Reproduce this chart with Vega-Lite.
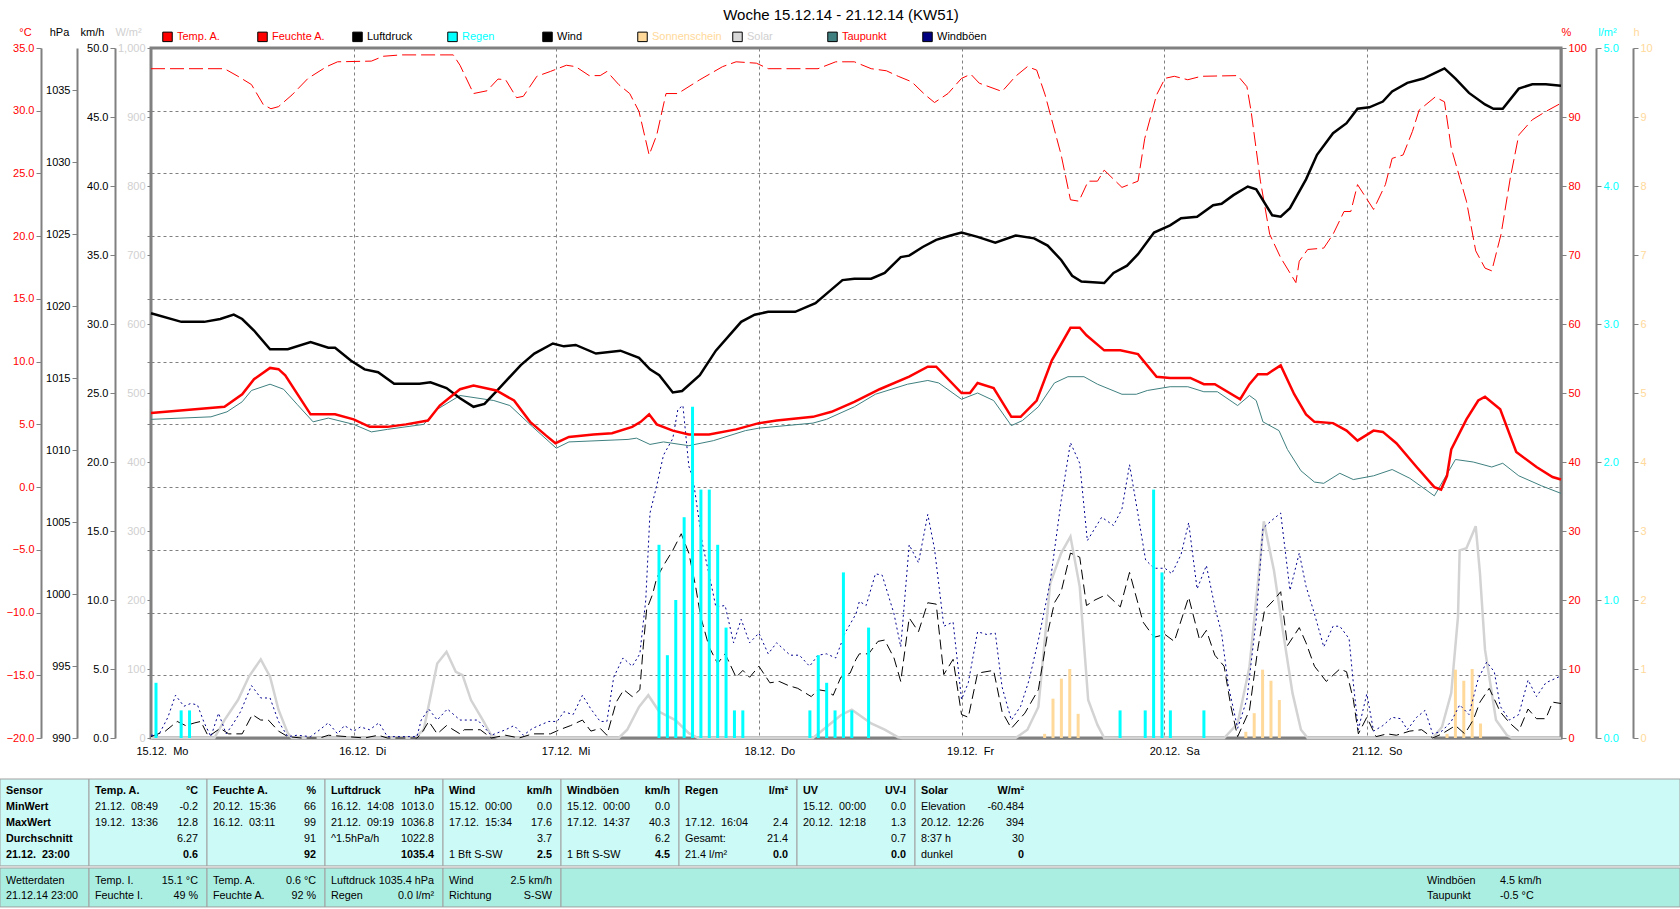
{
"$schema": "https://vega.github.io/schema/vega-lite/v6.json",
"width": 1410, "height": 690,
"autosize": {"type": "none"},
"padding": {"left": 151, "top": 48, "right": 119, "bottom": 171},
"background": "white",
"title": {"text": "Woche 15.12.14 - 21.12.14 (KW51)", "fontSize": 15, "fontWeight": "normal", "font": "Liberation Sans", "color": "black", "anchor": "middle", "dx": -15, "offset": 3},
"config": {
  "font": "Liberation Sans",
  "view": {"stroke": "#808080", "strokeWidth": 3},
  "axis": {"labelFont": "Liberation Sans", "labelFontSize": 11, "domainColor": "#808080", "tickColor": "#808080", "domainWidth": 2, "tickSize": 5, "titleFont": "Liberation Sans", "titleFontSize": 11, "titleFontWeight": "normal", "titleAngle": 0, "titleBaseline": "middle", "titleAlign": "center", "grid": false, "labelPadding": 2, "labelColor": "black", "titleColor": "black"}
},
"resolve": {"scale": {"x": "independent", "y": "independent"}},
"datasets": {
"temp": [{"h":0,"v":5.9},{"h":8.7,"v":6.4},{"h":10.8,"v":7.4},{"h":12.2,"v":8.6},{"h":14.1,"v":9.5},{"h":15.1,"v":9.4},{"h":15.9,"v":8.9},{"h":18.9,"v":5.8},{"h":21.8,"v":5.8},{"h":24,"v":5.4},{"h":25.9,"v":4.8},{"h":28,"v":4.8},{"h":30.2,"v":5.0},{"h":32.8,"v":5.3},{"h":34.2,"v":6.5},{"h":36.6,"v":7.8},{"h":38.2,"v":8.1},{"h":40.9,"v":7.7},{"h":43,"v":6.9},{"h":44.9,"v":5.2},{"h":46.8,"v":4.1},{"h":47.9,"v":3.5},{"h":49.5,"v":4.0},{"h":52.4,"v":4.2},{"h":54.6,"v":4.3},{"h":57,"v":4.8},{"h":58,"v":5.2},{"h":59,"v":5.8},{"h":59.9,"v":5.0},{"h":61.8,"v":4.5},{"h":63.7,"v":4.2},{"h":66.1,"v":4.2},{"h":69.3,"v":4.6},{"h":72,"v":5.1},{"h":74.1,"v":5.3},{"h":78.4,"v":5.6},{"h":80.6,"v":6.0},{"h":83.3,"v":6.8},{"h":86.3,"v":7.8},{"h":89.8,"v":8.8},{"h":92,"v":9.6},{"h":93,"v":9.6},{"h":96,"v":7.5},{"h":97,"v":7.5},{"h":97.9,"v":8.3},{"h":99.8,"v":7.9},{"h":101.9,"v":5.6},{"h":103,"v":5.6},{"h":104.9,"v":6.9},{"h":106.7,"v":10.1},{"h":108.9,"v":12.7},{"h":110,"v":12.7},{"h":110.8,"v":12.1},{"h":112.9,"v":10.9},{"h":114.8,"v":10.9},{"h":116.9,"v":10.6},{"h":119.1,"v":8.8},{"h":120.7,"v":8.7},{"h":123.1,"v":8.7},{"h":124.7,"v":8.2},{"h":126,"v":8.2},{"h":129,"v":7.0},{"h":130.1,"v":8.2},{"h":131.1,"v":9.0},{"h":132.2,"v":9.0},{"h":133.8,"v":9.7},{"h":135.4,"v":7.4},{"h":136.8,"v":5.8},{"h":137.8,"v":5.2},{"h":140,"v":5.1},{"h":141.6,"v":4.5},{"h":142.9,"v":3.7},{"h":144.8,"v":4.5},{"h":145.9,"v":4.4},{"h":147.5,"v":3.5},{"h":149.9,"v":1.6},{"h":152,"v":0.0},{"h":152.8,"v":-0.2},{"h":153.5,"v":0.9},{"h":154,"v":3.0},{"h":155.8,"v":5.4},{"h":157.2,"v":6.9},{"h":158,"v":7.2},{"h":159.8,"v":6.2},{"h":161.7,"v":2.8},{"h":164.1,"v":1.6},{"h":166,"v":0.8},{"h":167,"v":0.6}],
"dew": [{"h":0,"v":5.4},{"h":7.1,"v":5.6},{"h":9,"v":6.0},{"h":10.8,"v":6.8},{"h":11.9,"v":7.7},{"h":14.1,"v":8.2},{"h":15.7,"v":7.8},{"h":17.3,"v":6.6},{"h":19.2,"v":5.2},{"h":21,"v":5.5},{"h":24,"v":5.0},{"h":26.1,"v":4.4},{"h":28,"v":4.6},{"h":32.3,"v":5.0},{"h":33.9,"v":6.2},{"h":36.6,"v":7.3},{"h":40.6,"v":6.9},{"h":42.5,"v":6.5},{"h":45.2,"v":4.8},{"h":48,"v":3.1},{"h":49.5,"v":3.6},{"h":56.5,"v":3.8},{"h":57.5,"v":3.9},{"h":59.1,"v":3.4},{"h":60.7,"v":3.6},{"h":63.7,"v":3.3},{"h":66.6,"v":3.7},{"h":70.4,"v":4.5},{"h":72,"v":4.7},{"h":78.4,"v":5.1},{"h":80,"v":5.4},{"h":83.3,"v":6.4},{"h":85.8,"v":7.4},{"h":89.6,"v":8.2},{"h":92,"v":8.5},{"h":93.3,"v":8.3},{"h":96,"v":7.0},{"h":97.9,"v":7.5},{"h":99.8,"v":6.9},{"h":101.9,"v":4.9},{"h":103.2,"v":5.3},{"h":105.1,"v":6.4},{"h":107,"v":8.3},{"h":108.6,"v":8.8},{"h":110.5,"v":8.8},{"h":112.1,"v":8.2},{"h":115,"v":7.4},{"h":116.7,"v":7.4},{"h":118,"v":7.7},{"h":120.7,"v":8.0},{"h":122.8,"v":8.0},{"h":124.7,"v":7.6},{"h":126.3,"v":7.6},{"h":128.7,"v":6.5},{"h":130.1,"v":7.3},{"h":130.9,"v":6.9},{"h":131.7,"v":5.2},{"h":133.6,"v":4.5},{"h":134.6,"v":3.0},{"h":136.2,"v":1.3},{"h":137.8,"v":0.4},{"h":138.9,"v":0.3},{"h":140.8,"v":1.1},{"h":142.4,"v":0.6},{"h":144.8,"v":0.9},{"h":147,"v":1.4},{"h":149.1,"v":0.7},{"h":152,"v":-0.7},{"h":154.5,"v":2.2},{"h":156.6,"v":2.0},{"h":158.8,"v":1.6},{"h":160.1,"v":1.9},{"h":162,"v":0.9},{"h":164.7,"v":0.1},{"h":167,"v":-0.5}],
"hum": [{"h":0,"v":97},{"h":8.7,"v":97},{"h":10.3,"v":95.9},{"h":11.9,"v":94.7},{"h":13.3,"v":91.8},{"h":14.2,"v":91.2},{"h":15.1,"v":91.5},{"h":16.7,"v":93.2},{"h":18.6,"v":95.6},{"h":20.8,"v":97.3},{"h":22.1,"v":98},{"h":26.1,"v":98.1},{"h":27.5,"v":98.8},{"h":29.6,"v":99},{"h":35.8,"v":99},{"h":36.6,"v":97.5},{"h":38.2,"v":93.4},{"h":39.8,"v":93.8},{"h":41.1,"v":95.5},{"h":42,"v":95.4},{"h":43.3,"v":92.8},{"h":44.1,"v":93},{"h":45.7,"v":95.9},{"h":47.3,"v":96.6},{"h":49.2,"v":97.5},{"h":50.3,"v":97.3},{"h":51.9,"v":96},{"h":53.2,"v":96},{"h":54,"v":96.6},{"h":55.4,"v":94.7},{"h":56.7,"v":93.4},{"h":57.8,"v":90.8},{"h":59,"v":84.5},{"h":59.9,"v":87.4},{"h":61,"v":93.4},{"h":62.4,"v":93.4},{"h":65,"v":95.4},{"h":67.7,"v":97.3},{"h":69.3,"v":98},{"h":71.7,"v":97.8},{"h":73.1,"v":97},{"h":79,"v":97},{"h":81.1,"v":98},{"h":83.3,"v":98},{"h":85.3,"v":97},{"h":87.1,"v":96.7},{"h":88.5,"v":95.9},{"h":90.1,"v":95.1},{"h":91.7,"v":93.2},{"h":92.8,"v":92.1},{"h":94.4,"v":93.4},{"h":96,"v":95.6},{"h":97.1,"v":96.2},{"h":98.1,"v":94.9},{"h":100.8,"v":93.7},{"h":102.4,"v":95.9},{"h":103.8,"v":97.3},{"h":104.9,"v":96.8},{"h":105.9,"v":93.2},{"h":107.8,"v":84.5},{"h":108.9,"v":78},{"h":109.9,"v":77.8},{"h":111,"v":80.7},{"h":112.1,"v":80.7},{"h":112.9,"v":82.3},{"h":115,"v":79.8},{"h":116.9,"v":80.7},{"h":117.7,"v":86.9},{"h":119.1,"v":93.2},{"h":120.1,"v":95.6},{"h":121.2,"v":95.9},{"h":122.8,"v":95.4},{"h":124.4,"v":95.9},{"h":128.7,"v":96},{"h":129.8,"v":94.4},{"h":130.3,"v":90.8},{"h":131.4,"v":80.7},{"h":132.5,"v":73},{"h":133.8,"v":69.6},{"h":135.6,"v":66},{"h":136,"v":69.1},{"h":137,"v":70.8},{"h":138.9,"v":71},{"h":140,"v":73},{"h":141.3,"v":76.3},{"h":142.1,"v":76.3},{"h":142.9,"v":80.2},{"h":144.8,"v":76.6},{"h":146.2,"v":80.2},{"h":147,"v":84},{"h":148.3,"v":84.5},{"h":149.4,"v":87.9},{"h":150.2,"v":91},{"h":152.1,"v":92.9},{"h":153.2,"v":92.2},{"h":154,"v":85.5},{"h":155.8,"v":77.8},{"h":156.9,"v":70.6},{"h":158,"v":68.1},{"h":158.8,"v":67.7},{"h":159.9,"v":73},{"h":161,"v":81.2},{"h":162,"v":87.4},{"h":163.6,"v":89.6},{"h":165.2,"v":90.8},{"h":167,"v":92}],
"press": [{"h":0,"v":1019.5},{"h":3.6,"v":1018.9},{"h":6.3,"v":1018.9},{"h":8.2,"v":1019.1},{"h":9.8,"v":1019.4},{"h":10.8,"v":1019.1},{"h":12.2,"v":1018.3},{"h":14.1,"v":1017.0},{"h":16.2,"v":1017.0},{"h":18.9,"v":1017.5},{"h":21,"v":1017.1},{"h":21.8,"v":1017.1},{"h":23.7,"v":1016.2},{"h":25.3,"v":1015.6},{"h":26.9,"v":1015.4},{"h":28.8,"v":1014.6},{"h":31.8,"v":1014.6},{"h":33.1,"v":1014.7},{"h":35,"v":1014.3},{"h":36.6,"v":1013.6},{"h":38.2,"v":1013.0},{"h":39.5,"v":1013.2},{"h":41.1,"v":1014.2},{"h":43.8,"v":1015.9},{"h":45.4,"v":1016.7},{"h":47.6,"v":1017.4},{"h":48.9,"v":1017.2},{"h":50.3,"v":1017.3},{"h":52.7,"v":1016.7},{"h":55.6,"v":1016.9},{"h":57.8,"v":1016.4},{"h":59.1,"v":1015.6},{"h":60.2,"v":1015.2},{"h":61.8,"v":1014.0},{"h":62.9,"v":1014.1},{"h":65,"v":1015.2},{"h":66.9,"v":1016.9},{"h":69.9,"v":1018.9},{"h":71.5,"v":1019.4},{"h":73.1,"v":1019.6},{"h":76.3,"v":1019.6},{"h":78.7,"v":1020.2},{"h":80.3,"v":1021.0},{"h":81.9,"v":1021.8},{"h":83.3,"v":1021.9},{"h":85.3,"v":1021.9},{"h":86.9,"v":1022.3},{"h":88.8,"v":1023.4},{"h":89.8,"v":1023.5},{"h":91.4,"v":1024.1},{"h":93,"v":1024.6},{"h":94.7,"v":1024.9},{"h":96,"v":1025.1},{"h":97.9,"v":1024.8},{"h":100,"v":1024.4},{"h":102.4,"v":1024.9},{"h":104.6,"v":1024.7},{"h":106.2,"v":1024.2},{"h":107.8,"v":1023.2},{"h":109.1,"v":1022.1},{"h":110.2,"v":1021.7},{"h":112.9,"v":1021.6},{"h":114,"v":1022.3},{"h":115.6,"v":1022.8},{"h":116.9,"v":1023.6},{"h":118.8,"v":1025.1},{"h":120.7,"v":1025.6},{"h":122,"v":1026.1},{"h":123.9,"v":1026.2},{"h":125.8,"v":1027.0},{"h":126.8,"v":1027.1},{"h":128.2,"v":1027.7},{"h":129.9,"v":1028.3},{"h":130.9,"v":1028.1},{"h":132.8,"v":1026.3},{"h":133.8,"v":1026.2},{"h":134.9,"v":1026.8},{"h":136.8,"v":1028.8},{"h":138.1,"v":1030.5},{"h":140,"v":1032.0},{"h":141.6,"v":1032.7},{"h":142.9,"v":1033.7},{"h":144.3,"v":1033.8},{"h":145.9,"v":1034.2},{"h":147,"v":1034.9},{"h":148.8,"v":1035.5},{"h":150.7,"v":1035.8},{"h":152.1,"v":1036.2},{"h":153.2,"v":1036.5},{"h":154.5,"v":1035.8},{"h":156.1,"v":1034.8},{"h":158,"v":1034.0},{"h":159,"v":1033.7},{"h":160.1,"v":1033.7},{"h":162,"v":1035.1},{"h":163.6,"v":1035.4},{"h":165.2,"v":1035.4},{"h":167,"v":1035.3}],
"wind": [{"h":0,"v":0.1},{"h":1.7,"v":0.5},{"h":3.1,"v":1.2},{"h":4.1,"v":0.9},{"h":5.2,"v":1.1},{"h":5.9,"v":1.2},{"h":6.8,"v":0.1},{"h":8.2,"v":0.7},{"h":9.2,"v":0.3},{"h":10.8,"v":0.3},{"h":12,"v":1.7},{"h":13,"v":1.3},{"h":13.9,"v":1.3},{"h":15.1,"v":0.5},{"h":16.2,"v":0.1},{"h":17.8,"v":0},{"h":20,"v":0},{"h":21,"v":0.2},{"h":23.2,"v":0.1},{"h":25.3,"v":0},{"h":26.9,"v":0.2},{"h":28,"v":0},{"h":31.5,"v":0},{"h":32,"v":0.3},{"h":32.9,"v":1.2},{"h":33.9,"v":0.3},{"h":35,"v":0.9},{"h":36.6,"v":0.3},{"h":37.1,"v":0.6},{"h":39,"v":0.6},{"h":40.3,"v":0},{"h":42,"v":0.2},{"h":43.6,"v":0},{"h":45.2,"v":0.3},{"h":47.3,"v":0.3},{"h":48.4,"v":0.6},{"h":49.7,"v":0.9},{"h":51.1,"v":1.3},{"h":52.1,"v":0.5},{"h":53.2,"v":0.7},{"h":54,"v":0.2},{"h":55.1,"v":2.6},{"h":56,"v":3.5},{"h":57,"v":3.0},{"h":57.9,"v":3.5},{"h":58.3,"v":6.6},{"h":58.7,"v":9.3},{"h":59.4,"v":10.4},{"h":59.9,"v":11.6},{"h":60.7,"v":12.5},{"h":61.8,"v":13.6},{"h":62.8,"v":14.8},{"h":63.7,"v":13.4},{"h":64.5,"v":11.0},{"h":65.1,"v":8.8},{"h":66.1,"v":6.6},{"h":67.1,"v":5.4},{"h":68,"v":6.1},{"h":69.3,"v":4.4},{"h":70.1,"v":4.9},{"h":70.9,"v":4.4},{"h":72,"v":5.2},{"h":73.3,"v":4.0},{"h":74.4,"v":4.1},{"h":75.5,"v":3.8},{"h":76.6,"v":3.6},{"h":78.2,"v":3.0},{"h":79,"v":3.5},{"h":80,"v":3.4},{"h":80.8,"v":3.1},{"h":81.7,"v":4.4},{"h":82.8,"v":4.7},{"h":83.5,"v":5.7},{"h":83.9,"v":6.1},{"h":85,"v":6.1},{"h":86.1,"v":7.0},{"h":86.9,"v":7.1},{"h":88,"v":5.8},{"h":88.8,"v":4.1},{"h":89.8,"v":8.7},{"h":90.9,"v":7.7},{"h":92,"v":9.8},{"h":93,"v":9.7},{"h":93.9,"v":4.6},{"h":95,"v":5.7},{"h":96,"v":1.7},{"h":96.8,"v":1.5},{"h":97.9,"v":4.7},{"h":99.8,"v":4.9},{"h":100.8,"v":1.9},{"h":101.9,"v":0.7},{"h":103.5,"v":1.8},{"h":105.1,"v":3.5},{"h":106.2,"v":7.6},{"h":107,"v":9.8},{"h":107.8,"v":10.6},{"h":108.9,"v":13.4},{"h":110,"v":13.1},{"h":110.8,"v":9.6},{"h":111.8,"v":10.0},{"h":113.2,"v":10.4},{"h":114.8,"v":9.5},{"h":115.9,"v":12.0},{"h":117.5,"v":8.4},{"h":118.8,"v":7.3},{"h":120.1,"v":7.5},{"h":121.2,"v":7.0},{"h":122.9,"v":10.2},{"h":124.2,"v":7.1},{"h":125,"v":7.8},{"h":126,"v":6.0},{"h":127.1,"v":5.2},{"h":127.9,"v":2.3},{"h":128.7,"v":0.1},{"h":130.1,"v":2.0},{"h":131.1,"v":6.5},{"h":131.9,"v":9.3},{"h":133,"v":10.0},{"h":133.8,"v":10.6},{"h":134.6,"v":6.7},{"h":136,"v":8.0},{"h":136.8,"v":6.9},{"h":137.8,"v":5.2},{"h":139.2,"v":4.1},{"h":140.8,"v":5.0},{"h":141.6,"v":4.8},{"h":142.4,"v":2.8},{"h":143,"v":0.3},{"h":144,"v":1.5},{"h":145.1,"v":0.1},{"h":146.4,"v":0.3},{"h":147.5,"v":0.2},{"h":149.1,"v":0.5},{"h":150.5,"v":0.6},{"h":151.8,"v":0},{"h":152.9,"v":0.3},{"h":154.5,"v":0.9},{"h":155.6,"v":0.3},{"h":156.6,"v":1.3},{"h":157.4,"v":2.6},{"h":158.5,"v":3.6},{"h":159.8,"v":1.9},{"h":160.9,"v":1.1},{"h":162,"v":0.5},{"h":163.1,"v":2.1},{"h":164.1,"v":1.4},{"h":165.2,"v":1.4},{"h":166,"v":2.6},{"h":167,"v":2.5}],
"gust": [{"h":0,"v":0.2},{"h":0.9,"v":0.2},{"h":2,"v":1.5},{"h":2.9,"v":3.1},{"h":3.9,"v":2.3},{"h":4.7,"v":2.5},{"h":5.5,"v":2.4},{"h":6.3,"v":1.1},{"h":7.1,"v":0.1},{"h":8,"v":1.8},{"h":8.9,"v":0.3},{"h":9.8,"v":1.1},{"h":10.6,"v":1.9},{"h":11.9,"v":3.8},{"h":13,"v":2.9},{"h":14.1,"v":2.9},{"h":15.1,"v":1.2},{"h":16.2,"v":0.1},{"h":17.3,"v":0.2},{"h":18.9,"v":0.1},{"h":20,"v":0.6},{"h":21,"v":1.1},{"h":22.1,"v":0.3},{"h":22.9,"v":0.9},{"h":24,"v":0.5},{"h":24.8,"v":0.8},{"h":25.9,"v":0.6},{"h":27,"v":1.1},{"h":28,"v":0.1},{"h":31.5,"v":0.1},{"h":32,"v":1.3},{"h":32.9,"v":2.1},{"h":33.9,"v":1.3},{"h":35.1,"v":2.1},{"h":36.6,"v":1.3},{"h":38.7,"v":1.3},{"h":40.3,"v":0.2},{"h":42,"v":0.6},{"h":43,"v":0.9},{"h":44.1,"v":0.2},{"h":45.2,"v":0.7},{"h":47.1,"v":1.2},{"h":48.1,"v":1.2},{"h":48.9,"v":1.9},{"h":50,"v":1.7},{"h":51.1,"v":3.1},{"h":52.1,"v":2.1},{"h":53.2,"v":1.2},{"h":54,"v":1.2},{"h":54.8,"v":4.4},{"h":55.9,"v":5.8},{"h":57,"v":5.2},{"h":57.9,"v":6.1},{"h":58.6,"v":10.0},{"h":59.1,"v":16.3},{"h":59.9,"v":18.3},{"h":60.7,"v":20.5},{"h":61.8,"v":21.7},{"h":62.4,"v":23.8},{"h":63,"v":24.1},{"h":63.7,"v":19.7},{"h":64.2,"v":18.8},{"h":65.3,"v":14.1},{"h":66.4,"v":11.0},{"h":66.9,"v":9.5},{"h":68,"v":9.6},{"h":69,"v":6.9},{"h":69.9,"v":8.6},{"h":70.9,"v":6.9},{"h":72,"v":7.6},{"h":73.1,"v":6.1},{"h":74.1,"v":6.9},{"h":75.7,"v":6.0},{"h":76.8,"v":6.0},{"h":78,"v":5.2},{"h":79,"v":6.0},{"h":80,"v":6.1},{"h":81.1,"v":5.8},{"h":82.2,"v":7.6},{"h":83.5,"v":9.0},{"h":83.9,"v":9.9},{"h":84.7,"v":9.6},{"h":85.8,"v":11.9},{"h":86.6,"v":11.8},{"h":88,"v":9.0},{"h":88.8,"v":6.6},{"h":89.8,"v":14.0},{"h":90.9,"v":12.7},{"h":92,"v":16.2},{"h":92.8,"v":13.7},{"h":93.9,"v":8.1},{"h":95,"v":8.4},{"h":96,"v":2.8},{"h":96.8,"v":4.0},{"h":97.9,"v":7.7},{"h":99,"v":7.5},{"h":100,"v":7.6},{"h":100.8,"v":3.7},{"h":101.9,"v":1.3},{"h":103,"v":2.3},{"h":104,"v":4.2},{"h":105.1,"v":7.1},{"h":106.5,"v":11.3},{"h":107.8,"v":17.2},{"h":108.9,"v":21.4},{"h":110,"v":19.9},{"h":110.9,"v":14.3},{"h":112.6,"v":16.0},{"h":114,"v":15.4},{"h":115,"v":16.6},{"h":115.9,"v":19.8},{"h":116.9,"v":16.2},{"h":117.8,"v":12.9},{"h":118.8,"v":12.3},{"h":120.1,"v":12.3},{"h":120.9,"v":11.9},{"h":122,"v":13.3},{"h":122.9,"v":15.6},{"h":123.9,"v":10.8},{"h":125,"v":12.5},{"h":126,"v":9.5},{"h":126.8,"v":7.6},{"h":127.6,"v":3.8},{"h":128.7,"v":0.7},{"h":129.8,"v":2.8},{"h":130.9,"v":8.6},{"h":131.7,"v":15.2},{"h":132.8,"v":15.8},{"h":133.8,"v":16.3},{"h":134.9,"v":10.7},{"h":136,"v":13.4},{"h":136.8,"v":11.0},{"h":137.8,"v":9.0},{"h":138.9,"v":6.6},{"h":140,"v":8.1},{"h":140.8,"v":8.1},{"h":141.9,"v":7.2},{"h":142.4,"v":4.0},{"h":143,"v":0.6},{"h":144,"v":3.2},{"h":144.8,"v":0.5},{"h":145.9,"v":0.9},{"h":147,"v":1.5},{"h":148,"v":1.4},{"h":148.8,"v":0.6},{"h":149.9,"v":1.5},{"h":150.9,"v":2.0},{"h":151.8,"v":0.3},{"h":152.9,"v":0.5},{"h":154,"v":1.2},{"h":155,"v":2.4},{"h":156.1,"v":1.7},{"h":157.2,"v":4.3},{"h":158.2,"v":5.5},{"h":159.1,"v":4.8},{"h":159.8,"v":2.3},{"h":160.9,"v":1.3},{"h":162,"v":1.7},{"h":163.1,"v":4.2},{"h":164.1,"v":3.0},{"h":165.2,"v":4.0},{"h":167,"v":4.5}],
"solar": [{"h":0,"v":0},{"h":7.5,"v":0},{"h":8.7,"v":26},{"h":10.3,"v":55},{"h":11.6,"v":89},{"h":13,"v":114},{"h":14.1,"v":89},{"h":15.1,"v":41},{"h":16.2,"v":7},{"h":16.7,"v":0},{"h":31.2,"v":0},{"h":32.3,"v":12},{"h":33.9,"v":108},{"h":35,"v":125},{"h":36.1,"v":96},{"h":36.9,"v":91},{"h":37.9,"v":55},{"h":39.3,"v":26},{"h":40.3,"v":4},{"h":41.1,"v":0},{"h":55.4,"v":0},{"h":56.4,"v":12},{"h":57.8,"v":45},{"h":58.9,"v":62},{"h":60.2,"v":38},{"h":62.1,"v":26},{"h":63.7,"v":7},{"h":64.8,"v":0},{"h":78.4,"v":0},{"h":80,"v":16},{"h":81.7,"v":33},{"h":83,"v":41},{"h":85.3,"v":21},{"h":86.9,"v":12},{"h":88.5,"v":1},{"h":89,"v":0},{"h":102.4,"v":0},{"h":103.8,"v":12},{"h":105.1,"v":45},{"h":106.5,"v":224},{"h":107.8,"v":268},{"h":108.9,"v":292},{"h":110,"v":219},{"h":111,"v":55},{"h":112.1,"v":19},{"h":112.9,"v":0},{"h":127.1,"v":0},{"h":128.7,"v":21},{"h":130.1,"v":103},{"h":131.1,"v":224},{"h":131.8,"v":314},{"h":133,"v":243},{"h":134.1,"v":152},{"h":135.2,"v":65},{"h":136.2,"v":12},{"h":137,"v":0},{"h":151.8,"v":0},{"h":152.9,"v":16},{"h":154,"v":65},{"h":154.8,"v":176},{"h":155,"v":272},{"h":155.8,"v":275},{"h":156.9,"v":307},{"h":157.4,"v":239},{"h":158,"v":128},{"h":159.3,"v":26},{"h":160.6,"v":4},{"h":161.2,"v":0},{"h":167,"v":0}],
"rain": [{"h":0,"v":0.4},{"h":3,"v":0.2},{"h":4,"v":0.2},{"h":60,"v":1.4},{"h":61,"v":0.6},{"h":62,"v":1.0},{"h":63,"v":1.6},{"h":64,"v":2.4},{"h":65,"v":1.8},{"h":66,"v":1.8},{"h":67,"v":1.4},{"h":68,"v":0.8},{"h":69,"v":0.2},{"h":70,"v":0.2},{"h":78,"v":0.2},{"h":79,"v":0.6},{"h":80,"v":0.4},{"h":81,"v":0.2},{"h":82,"v":1.2},{"h":83,"v":0.2},{"h":85,"v":0.8},{"h":115,"v":0.2},{"h":118,"v":0.2},{"h":119,"v":1.8},{"h":120,"v":1.2},{"h":121,"v":0.2},{"h":125,"v":0.2}],
"sun": [{"h":106,"v":0.06},{"h":107,"v":0.57},{"h":108,"v":0.86},{"h":109,"v":1.0},{"h":110,"v":0.35},{"h":130,"v":0.09},{"h":131,"v":0.36},{"h":132,"v":0.99},{"h":133,"v":0.83},{"h":134,"v":0.55},{"h":154,"v":0.06},{"h":155,"v":0.99},{"h":156,"v":0.83},{"h":157,"v":1.0},{"h":158,"v":0.21}],
"frame": [{"blk":"u","c":0,"c2":1,"r":-0.75,"r2":4.42},{"blk":"u","c":1,"c2":2,"r":-0.75,"r2":4.42},{"blk":"u","c":2,"c2":3,"r":-0.75,"r2":4.42},{"blk":"u","c":3,"c2":4,"r":-0.75,"r2":4.42},{"blk":"u","c":4,"c2":5,"r":-0.75,"r2":4.42},{"blk":"u","c":5,"c2":6,"r":-0.75,"r2":4.42},{"blk":"u","c":6,"c2":7,"r":-0.75,"r2":4.42},{"blk":"u","c":7,"c2":8,"r":-0.75,"r2":4.42},{"blk":"u","c":8,"c2":14,"r":-0.75,"r2":4.42},{"blk":"l","c":0,"c2":1,"r":4.5,"r2":6.73},{"blk":"l","c":1,"c2":2,"r":4.5,"r2":6.73},{"blk":"l","c":2,"c2":3,"r":4.5,"r2":6.73},{"blk":"l","c":3,"c2":4,"r":4.5,"r2":6.73},{"blk":"l","c":4,"c2":5,"r":4.5,"r2":6.73},{"blk":"l","c":5,"c2":14,"r":4.5,"r2":6.73}],
"tbl": [
{"r":0,"c":0,"a":"Sensor","b":""},{"r":0,"c":1,"a":"Temp. A.","b":"°C"},{"r":0,"c":2,"a":"Feuchte A.","b":"%"},{"r":0,"c":3,"a":"Luftdruck","b":"hPa"},{"r":0,"c":4,"a":"Wind","b":"km/h"},{"r":0,"c":5,"a":"Windböen","b":"km/h"},{"r":0,"c":6,"a":"Regen","b":"l/m²"},{"r":0,"c":7,"a":"UV","b":"UV-I"},{"r":0,"c":8,"a":"Solar","b":"W/m²"},
{"r":1,"c":0,"a":"MinWert","b":""},{"r":1,"c":1,"a":"21.12.\u00a0 08:49","b":"-0.2"},{"r":1,"c":2,"a":"20.12.\u00a0 15:36","b":"66"},{"r":1,"c":3,"a":"16.12.\u00a0 14:08","b":"1013.0"},{"r":1,"c":4,"a":"15.12.\u00a0 00:00","b":"0.0"},{"r":1,"c":5,"a":"15.12.\u00a0 00:00","b":"0.0"},{"r":1,"c":7,"a":"15.12.\u00a0 00:00","b":"0.0"},{"r":1,"c":8,"a":"Elevation","b":"-60.484"},
{"r":2,"c":0,"a":"MaxWert","b":""},{"r":2,"c":1,"a":"19.12.\u00a0 13:36","b":"12.8"},{"r":2,"c":2,"a":"16.12.\u00a0 03:11","b":"99"},{"r":2,"c":3,"a":"21.12.\u00a0 09:19","b":"1036.8"},{"r":2,"c":4,"a":"17.12.\u00a0 15:34","b":"17.6"},{"r":2,"c":5,"a":"17.12.\u00a0 14:37","b":"40.3"},{"r":2,"c":6,"a":"17.12.\u00a0 16:04","b":"2.4"},{"r":2,"c":7,"a":"20.12.\u00a0 12:18","b":"1.3"},{"r":2,"c":8,"a":"20.12.\u00a0 12:26","b":"394"},
{"r":3,"c":0,"a":"Durchschnitt","b":""},{"r":3,"c":1,"a":"","b":"6.27"},{"r":3,"c":2,"a":"","b":"91"},{"r":3,"c":3,"a":"^1.5hPa/h","b":"1022.8"},{"r":3,"c":4,"a":"","b":"3.7"},{"r":3,"c":5,"a":"","b":"6.2"},{"r":3,"c":6,"a":"Gesamt:","b":"21.4"},{"r":3,"c":7,"a":"","b":"0.7"},{"r":3,"c":8,"a":"8:37 h","b":"30"},
{"r":4,"c":0,"a":"21.12.\u00a0 23:00","b":""},{"r":4,"c":1,"a":"","b":"0.6"},{"r":4,"c":2,"a":"","b":"92"},{"r":4,"c":3,"a":"","b":"1035.4"},{"r":4,"c":4,"a":"\u00a0\u00a01 Bft S-SW","b":"2.5"},{"r":4,"c":5,"a":"\u00a0\u00a01 Bft S-SW","b":"4.5"},{"r":4,"c":6,"a":"\u00a021.4 l/m²","b":"0.0"},{"r":4,"c":7,"a":"","b":"0.0"},{"r":4,"c":8,"a":"dunkel","b":"0"},
{"r":5,"c":0,"a":"Wetterdaten","b":""},{"r":5,"c":1,"a":"Temp. I.","b":"15.1 °C"},{"r":5,"c":2,"a":"Temp. A.","b":"0.6 °C"},{"r":5,"c":3,"a":"Luftdruck","b":"1035.4 hPa"},{"r":5,"c":4,"a":"Wind","b":"2.5 km/h"},{"r":5,"c":12,"a":"Windböen","b":""},{"r":5,"c":13,"a":"4.5 km/h","b":""},
{"r":6,"c":0,"a":"21.12.14 23:00","b":""},{"r":6,"c":1,"a":"Feuchte I.","b":"49 %"},{"r":6,"c":2,"a":"Feuchte A.","b":"92 %"},{"r":6,"c":3,"a":"Regen","b":"0.0 l/m²"},{"r":6,"c":4,"a":"Richtung","b":"S-SW"},{"r":6,"c":12,"a":"Taupunkt","b":""},{"r":6,"c":13,"a":"-0.5 °C","b":""}
]
},
"layer": [
{"data": {"name": "solar"}, "mark": {"type": "line", "color": "#D3D3D3", "strokeWidth": 2.5},
 "encoding": {
  "x": {"field": "h", "type": "quantitative", "scale": {"domain": [0, 167], "nice": false, "zero": false},
        "axis": {"values": [0,24,48,72,96,120,144], "labelExpr": "['15.12.\u00a0 Mo','16.12.\u00a0 Di','17.12.\u00a0 Mi','18.12.\u00a0 Do','19.12.\u00a0 Fr','20.12.\u00a0 Sa','21.12.\u00a0 So'][round(datum.value/24)]", "grid": true, "gridDash": [3,3], "gridColor": "#808080", "gridWidth": 1, "gridOpacity": 1, "ticks": false, "domain": true, "labelAlign": "left", "labelOffset": -15, "labelPadding": 7, "title": null}},
  "y": {"field": "v", "type": "quantitative", "scale": {"domain": [0, 1000], "nice": false, "zero": false},
        "axis": {"orient": "left", "offset": 0, "values": [0,100,200,300,400,500,600,700,800,900,1000], "labelColor": "#D0D0D0", "title": "W/m²", "titleColor": "#D0D0D0", "titleX": -23, "titleY": -16, "domain": false, "tickSize": 4}}
 }},
{"data": {"name": "sun"}, "mark": {"type": "bar", "color": "#FFD99A", "size": 3, "orient": "vertical"},
 "encoding": {
  "x": {"field": "h", "type": "quantitative", "scale": {"domain": [0, 167], "nice": false, "zero": false}, "axis": null},
  "y": {"field": "v", "type": "quantitative", "scale": {"domain": [0, 10], "nice": false, "zero": false},
        "axis": {"orient": "right", "offset": 72, "values": [0,1,2,3,4,5,6,7,8,9,10], "format": "d", "labelColor": "#FFD99A", "title": "h", "titleColor": "#FFD99A", "titleX": 3, "titleY": -16}}
 }},
{"data": {"name": "wind"}, "mark": {"type": "line", "color": "black", "strokeWidth": 1, "strokeDash": [10, 5]},
 "encoding": {
  "x": {"field": "h", "type": "quantitative", "scale": {"domain": [0, 167], "nice": false, "zero": false}, "axis": null},
  "y": {"field": "v", "type": "quantitative", "scale": {"domain": [0, 50], "nice": false, "zero": false},
        "axis": {"orient": "left", "offset": 36, "values": [0,5,10,15,20,25,30,35,40,45,50], "format": ".1f", "title": "km/h", "titleX": -23, "titleY": -16}}
 }},
{"data": {"name": "gust"}, "mark": {"type": "line", "color": "#000090", "strokeWidth": 1, "strokeDash": [2, 3]},
 "encoding": {
  "x": {"field": "h", "type": "quantitative", "scale": {"domain": [0, 167], "nice": false, "zero": false}, "axis": null},
  "y": {"field": "v", "type": "quantitative", "scale": {"domain": [0, 50], "nice": false, "zero": false}, "axis": null}
 }},
{"data": {"name": "dew"}, "mark": {"type": "line", "color": "#408080", "strokeWidth": 1},
 "encoding": {
  "x": {"field": "h", "type": "quantitative", "scale": {"domain": [0, 167], "nice": false, "zero": false}, "axis": null},
  "y": {"field": "v", "type": "quantitative", "scale": {"domain": [-20, 35], "nice": false, "zero": false},
        "axis": {"orient": "left", "offset": 0, "values": [-15,-10,-5,0,5,10,15,20,25,30], "grid": true, "gridDash": [3,3], "gridColor": "#808080", "gridWidth": 1, "gridOpacity": 1, "labels": false, "ticks": true, "tickSize": 4, "domain": false, "title": null}}
 }},
{"data": {"name": "hum"}, "mark": {"type": "line", "color": "#FF0000", "strokeWidth": 1, "strokeDash": [14, 5]},
 "encoding": {
  "x": {"field": "h", "type": "quantitative", "scale": {"domain": [0, 167], "nice": false, "zero": false}, "axis": null},
  "y": {"field": "v", "type": "quantitative", "scale": {"domain": [0, 100], "nice": false, "zero": false},
        "axis": {"orient": "right", "offset": 0, "values": [0,10,20,30,40,50,60,70,80,90,100], "format": "d", "labelColor": "#FF0000", "title": "%", "titleColor": "#FF0000", "titleX": 5, "titleY": -16}}
 }},
{"data": {"name": "press"}, "mark": {"type": "line", "color": "black", "strokeWidth": 2.5},
 "encoding": {
  "x": {"field": "h", "type": "quantitative", "scale": {"domain": [0, 167], "nice": false, "zero": false}, "axis": null},
  "y": {"field": "v", "type": "quantitative", "scale": {"domain": [990, 1037.92], "nice": false, "zero": false},
        "axis": {"orient": "left", "offset": 74, "values": [990,995,1000,1005,1010,1015,1020,1025,1030,1035], "format": "d", "title": "hPa", "titleX": -18, "titleY": -16}}
 }},
{"data": {"name": "temp"}, "mark": {"type": "line", "color": "#FF0000", "strokeWidth": 2.5},
 "encoding": {
  "x": {"field": "h", "type": "quantitative", "scale": {"domain": [0, 167], "nice": false, "zero": false}, "axis": null},
  "y": {"field": "v", "type": "quantitative", "scale": {"domain": [-20, 35], "nice": false, "zero": false},
        "axis": {"orient": "left", "offset": 110, "values": [-20,-15,-10,-5,0,5,10,15,20,25,30,35], "format": ".1f", "labelColor": "#FF0000", "title": "°C", "titleColor": "#FF0000", "titleX": -16, "titleY": -16}}
 }},
{"data": {"name": "rain"}, "mark": {"type": "bar", "color": "#00FFFF", "size": 3, "orient": "vertical"},
 "encoding": {
  "x": {"field": "h", "type": "quantitative", "scale": {"domain": [0, 167], "nice": false, "zero": false}, "axis": null},
  "y": {"field": "v", "type": "quantitative", "scale": {"domain": [0, 5], "nice": false, "zero": false},
        "axis": {"orient": "right", "offset": 35, "values": [0,1,2,3,4,5], "format": ".1f", "labelColor": "#00FFFF", "title": "l/m²", "titleColor": "#00FFFF", "titleX": 11, "titleY": -16}}
 }},
{"data": {"values": []}, "mark": {"type": "square", "filled": true, "stroke": "black", "strokeWidth": 1, "opacity": 1},
 "encoding": {
  "fill": {"field": "s", "type": "nominal",
    "scale": {"domain": ["Temp. A.", "Feuchte A.", "Luftdruck", "Regen", "Wind", "Sonnenschein", "Solar", "Taupunkt", "Windböen"],
              "range": ["#FF0000", "#FF0000", "#000000", "#00FFFF", "#000000", "#FFD99A", "#D8D8D8", "#408080", "#000080"]},
    "legend": {"orient": "none", "legendX": 11, "legendY": -17, "direction": "horizontal", "columns": 9, "gridAlign": "all", "columnPadding": 8, "symbolType": "square", "symbolSize": 90, "symbolStrokeColor": "black", "symbolStrokeWidth": 1, "symbolOpacity": 1, "labelFontSize": 11, "labelFont": "Liberation Sans", "labelOffset": 4, "title": null, "padding": 0,
      "labelColor": {"expr": "datum.label == 'Regen' ? '#00FFFF' : datum.label == 'Sonnenschein' ? '#FFD99A' : datum.label == 'Solar' ? '#D0D0D0' : (datum.label == 'Temp. A.' || datum.label == 'Feuchte A.' || datum.label == 'Taupunkt') ? '#FF0000' : '#000000'"}}}
 }},
{"data": {"name": "frame"}, "mark": {"type": "rect", "stroke": "#A0A0A0", "strokeWidth": 1},
 "encoding": {
  "x": {"field": "c", "type": "quantitative", "scale": {"domain": [0,1,9,12,13,14], "range": [-151,-62,882,1270,1343,1529], "nice": false, "zero": false}, "axis": null},
  "x2": {"field": "c2"},
  "y": {"field": "r", "type": "quantitative", "scale": {"domain": [0,4,5,6], "range": [743,807,833,848], "nice": false, "zero": false}, "axis": null},
  "y2": {"field": "r2"},
  "color": {"condition": {"test": "datum.blk == 'u'", "value": "#CCFAF6"}, "value": "#AAEEE2"}
 }},
{"data": {"name": "tbl"}, "transform": [{"filter": "(datum.c == 0 && datum.r <= 4) || datum.r == 0"}],
 "mark": {"type": "text", "align": "left", "baseline": "middle", "dx": 6, "fontSize": 10.8, "fontWeight": "bold", "color": "black", "font": "Liberation Sans"},
 "encoding": {
  "x": {"field": "c", "type": "quantitative", "scale": {"domain": [0,1,9,12,13,14], "range": [-151,-62,882,1270,1343,1529], "nice": false, "zero": false}, "axis": null},
  "y": {"field": "r", "type": "quantitative", "scale": {"domain": [0,4,5,6], "range": [743,807,833,848], "nice": false, "zero": false}, "axis": null},
  "text": {"field": "a"}
 }},
{"data": {"name": "tbl"}, "transform": [{"filter": "!((datum.c == 0 && datum.r <= 4) || datum.r == 0)"}],
 "mark": {"type": "text", "align": "left", "baseline": "middle", "dx": 6, "fontSize": 10.8, "fontWeight": "normal", "color": "black", "font": "Liberation Sans"},
 "encoding": {
  "x": {"field": "c", "type": "quantitative", "scale": {"domain": [0,1,9,12,13,14], "range": [-151,-62,882,1270,1343,1529], "nice": false, "zero": false}, "axis": null},
  "y": {"field": "r", "type": "quantitative", "scale": {"domain": [0,4,5,6], "range": [743,807,833,848], "nice": false, "zero": false}, "axis": null},
  "text": {"field": "a"}
 }},
{"data": {"name": "tbl"}, "transform": [{"filter": "datum.r == 0 || datum.r == 4"}],
 "mark": {"type": "text", "align": "right", "baseline": "middle", "dx": 109, "fontSize": 10.8, "fontWeight": "bold", "color": "black", "font": "Liberation Sans"},
 "encoding": {
  "x": {"field": "c", "type": "quantitative", "scale": {"domain": [0,1,9,12,13,14], "range": [-151,-62,882,1270,1343,1529], "nice": false, "zero": false}, "axis": null},
  "y": {"field": "r", "type": "quantitative", "scale": {"domain": [0,4,5,6], "range": [743,807,833,848], "nice": false, "zero": false}, "axis": null},
  "text": {"field": "b"}
 }},
{"data": {"name": "tbl"}, "transform": [{"filter": "!(datum.r == 0 || datum.r == 4)"}],
 "mark": {"type": "text", "align": "right", "baseline": "middle", "dx": 109, "fontSize": 10.8, "fontWeight": "normal", "color": "black", "font": "Liberation Sans"},
 "encoding": {
  "x": {"field": "c", "type": "quantitative", "scale": {"domain": [0,1,9,12,13,14], "range": [-151,-62,882,1270,1343,1529], "nice": false, "zero": false}, "axis": null},
  "y": {"field": "r", "type": "quantitative", "scale": {"domain": [0,4,5,6], "range": [743,807,833,848], "nice": false, "zero": false}, "axis": null},
  "text": {"field": "b"}
 }}
]
}
